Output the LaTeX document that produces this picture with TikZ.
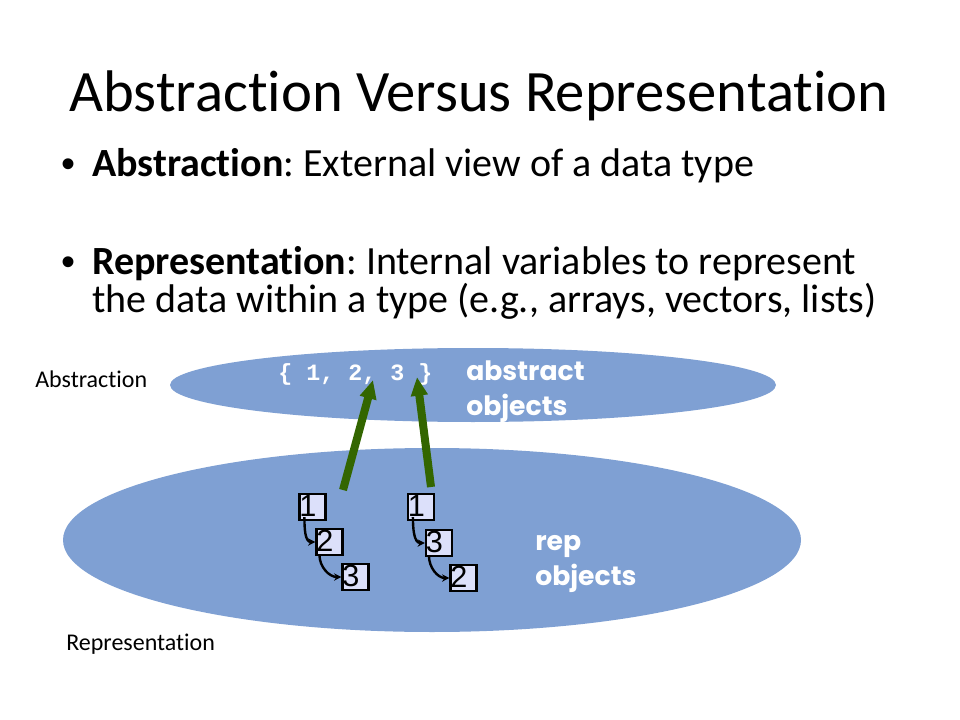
\documentclass[tikz,border=0pt]{standalone}
\usepackage{fontspec}
\setmainfont{Carlito}[Ligatures=NoCommon]
\newfontfamily\comicfont{Poppins}
\newfontfamily\codefont{Liberation Mono}
\newfontfamily\arialfont{Liberation Sans}
\usetikzlibrary{arrows.meta, positioning, shapes.geometric}
\definecolor{blobblue}{RGB}{127,160,211}
\definecolor{cellfill}{RGB}{220,224,250}
\definecolor{mapgreen}{RGB}{51,102,0}
\frenchspacing

\begin{document}
\begin{tikzpicture}[x=0.75pt, y=-0.75pt, >=Latex,
    blob/.style={ellipse, fill=blobblue, inner sep=0pt},
    cell/.style={draw=black, line width=1.6pt, fill=cellfill, minimum size=19.5pt, inner sep=0pt},
    digit/.style={font=\arialfont\fontsize{23}{23}\selectfont, inner sep=0pt, anchor=north west},
    link/.style={-{Stealth[length=5.5pt, width=5.5pt]}, line width=1.8pt},
    map/.style={-{Triangle[length=14pt, width=12pt]}, line width=6pt, mapgreen},
    repword/.style={text=white, font=\comicfont\bfseries\fontsize{20}{26}\selectfont, align=left, anchor=base west, inner sep=0pt},
    sidelbl/.style={font=\fontsize{18}{20}\selectfont, inner sep=0pt, anchor=base west},
    bodytext/.style={font=\fontsize{30}{32}\selectfont, inner sep=0pt, anchor=base west},
    dot/.style={font=\arialfont\fontsize{30}{32}\selectfont, inner sep=0pt, anchor=base}
  ]

  \useasboundingbox (0,0) rectangle (960,720);

  % title and bullets
  \node[anchor=base, inner sep=0pt, font=\fontsize{44}{50}\selectfont] (title) at (479,112) {Abstraction Versus Representation};

  \node[dot] (dotA) at (69,178) {•};
  \node[bodytext] (bulletA) at (92,177) {\textbf{Abstraction}: External view of a data type};

  \node[dot] (dotB) at (69,276) {•};
  \node[bodytext] (bulletB) at (92,275) {\textbf{Representation}: Internal variables to represent};
  \node[bodytext] (bulletC) at (92,312) {the data within a type (e.g., arrays, vectors, lists)};

  % the two levels
  \node[blob, minimum width=454.5pt, minimum height=55.5pt] (abs) at (473,385) {};
  \node[blob, minimum width=553.5pt, minimum height=138pt] (rep) at (432,540) {};

  \node[sidelbl] (absname) at (35,387) {Abstraction};
  \node[sidelbl] (repname) at (66,650) {Representation};

  \node[anchor=base west, inner sep=0pt, text=white, font=\codefont\bfseries\fontsize{17.5}{20}\selectfont] (set) at (278,380) {\{ 1, 2, 3 \}};
  \node[repword] (absword) at (466,415) {abstract\\objects};
  \node[repword] (repword) at (535,585) {rep\\objects};

  % first list 1 -> 2 -> 3
  \node[cell] (a1) at (312.5,507) {};
  \node[cell] (a2) at (329.5,542) {};
  \node[cell] (a3) at (355.5,577) {};
  % second list 1 -> 3 -> 2
  \node[cell] (b1) at (421,507) {};
  \node[cell] (b2) at (439,543) {};
  \node[cell] (b3) at (463.5,578) {};

  \foreach \c/\t in {a1/1, a2/2, a3/3, b1/1, b2/3, b3/2}
    \node[digit] at ([xshift=0.5pt, yshift=-1.5pt]\c.north west) {\t};

  \draw[link] ([xshift=4.5pt, yshift=3pt]a1.south west) to[out=-90, in=180] (a2.west);
  \draw[link] ([xshift=3pt, yshift=1pt]a2.south west) to[out=-90, in=180] (a3.west);
  \draw[link] ([xshift=4.5pt, yshift=3pt]b1.south west) to[out=-90, in=180] (b2.west);
  \draw[link] ([xshift=3pt, yshift=1pt]b2.south west) to[out=-90, in=180] (b3.west);

  % abstraction function
  \coordinate (tailA) at (343,490);
  \coordinate (tailB) at (431,487);
  \coordinate (headA) at (373,380);
  \coordinate (headB) at (417,377);
  \draw[map] (tailA) -- (headA);
  \draw[map] (tailB) -- (headB);

\end{tikzpicture}
\end{document}
